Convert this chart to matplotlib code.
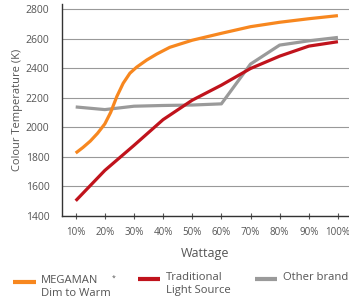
import matplotlib
matplotlib.use("Agg")
import matplotlib.pyplot as plt
from matplotlib.lines import Line2D

plt.rcParams['font.family'] = ['Open Sans', 'DejaVu Sans']

# Data
tick_labels = ["10%", "20%", "30%", "40%", "50%", "60%", "70%", "80%", "90%", "100%"]
tick_pos = [1, 2, 3, 4, 5, 6, 7, 8, 9, 10]

megaman_x = [1, 1.25, 1.5, 1.75, 2, 2.2, 2.41, 2.63, 2.86, 3.09, 3.44, 3.78, 4.23, 4.58, 5, 6, 7, 8, 9, 10]
megaman_y = [1824, 1862, 1905, 1958, 2022, 2100, 2207, 2298, 2366, 2407, 2456, 2496, 2542, 2564, 2590, 2637, 2682, 2712, 2736, 2757]

traditional_x = [1, 2, 3, 4, 5, 6, 7, 8, 9, 10]
traditional_y = [1500, 1706, 1876, 2051, 2183, 2285, 2398, 2482, 2550, 2580]

other_x = [1, 2, 3, 4, 5, 6, 7, 8, 9, 10]
other_y = [2137, 2119, 2142, 2147, 2150, 2158, 2428, 2557, 2586, 2609]

yticks = [1400, 1600, 1800, 2000, 2200, 2400, 2600, 2800]

c_orange = "#f7871f"
c_red = "#c0131c"
c_gray = "#9a9a9a"
txt = "#555555"

W, H = 349, 306
fig = plt.figure(figsize=(W / 100, H / 100), dpi=100)
ax = fig.add_axes([62 / W, 1 - 215.5 / H, (W - 62) / W, (215.5 - 4) / H])

ax.plot(other_x, other_y, color=c_gray, lw=2.3, solid_capstyle='butt', solid_joinstyle='round', zorder=3)
ax.plot(traditional_x, traditional_y, color=c_red, lw=2.3, solid_capstyle='butt', solid_joinstyle='round', zorder=4)
ax.plot(megaman_x, megaman_y, color=c_orange, lw=2.3, solid_capstyle='butt', solid_joinstyle='round', zorder=5)

ax.set_xlim(0.53, 10.38)
ax.set_ylim(1400, 2836)
ax.set_xticks(tick_pos)
ax.set_xticklabels(tick_labels)
ax.set_yticks(yticks)
ax.grid(axis='y', color='#999999', lw=0.8)
ax.set_axisbelow(True)
for s in ['top', 'right']:
    ax.spines[s].set_visible(False)
for s in ['left', 'bottom']:
    ax.spines[s].set_color('#333333')
    ax.spines[s].set_linewidth(1.0)
ax.tick_params(axis='y', length=0, labelsize=7.5, labelcolor=txt, pad=9)
ax.tick_params(axis='x', length=4, direction='inout', color='#555555', labelsize=7, labelcolor=txt, pad=6)
ax.set_xlabel("Wattage", fontsize=9, color=txt, labelpad=7)
ax.set_ylabel("Colour Temperature (K)", fontsize=8, color=txt, labelpad=2)

# Legend (manual)
def fx(x):
    return x / W
def fy(y):
    return 1 - y / H

entries = [
    (13, 36, 282, c_orange, 41, "MEGAMAN\nDim to Warm"),
    (138, 160, 279, c_red, 166, "Traditional\nLight Source"),
    (255, 277, 279, c_gray, 283, "Other brand"),
]
for x0, x1, y, c, tx, label in entries:
    fig.add_artist(Line2D([fx(x0), fx(x1)], [fy(y), fy(y)], color=c, lw=3, solid_capstyle='butt'))
    fig.text(fx(tx), fy(y - 7), label, fontsize=8.1, color=txt, va='top', ha='left', linespacing=1.3)
fig.text(fx(112), fy(278), "*", fontsize=5, color=txt, va='center', ha='left')

fig.savefig("out.png", dpi=100)
